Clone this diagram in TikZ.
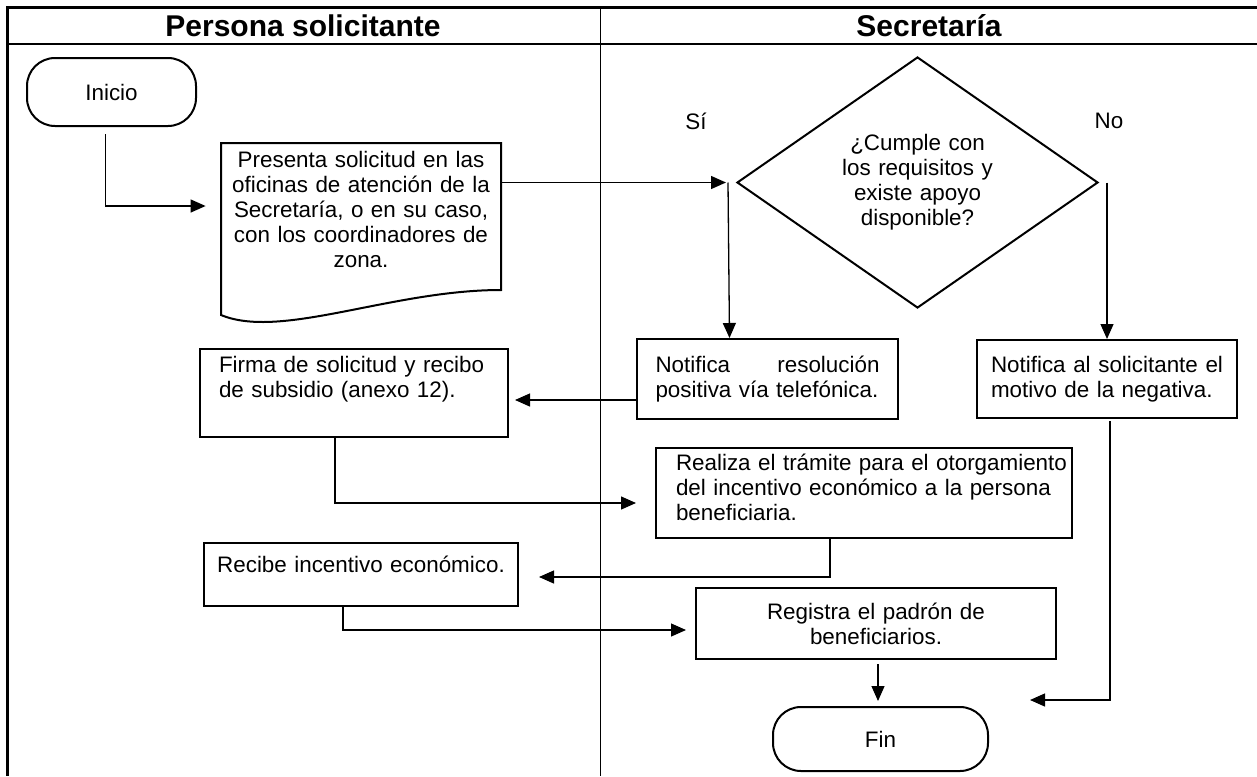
\documentclass[tikz,border=0pt]{standalone}
\usepackage{fontspec}
\setmainfont{Liberation Sans}
\usepackage{tikz}
\usetikzlibrary{calc, arrows.meta, positioning, shapes.geometric}
\usepackage{xcolor}

\begin{document}
\begin{tikzpicture}[x=0.5pt, y=-0.5pt, >={Triangle[length=7.5pt, width=6.5pt]}, font=\fontsize{11.2}{12.5}\selectfont, execute at begin node={\setlength{\baselineskip}{12.5pt}}]
			\tikzstyle{box} = [draw=black, line width=1pt, rectangle, inner sep=0pt, align=left]
			\tikzstyle{term} = [draw=black, line width=1pt, rectangle, rounded corners=14pt, minimum width=84.5pt, minimum height=34pt]
			\tikzstyle{decision} = [draw=black, line width=1pt, diamond, aspect=1.44, inner sep=0pt, align=center, text width=78pt, minimum width=180.5pt, minimum height=125.5pt]
			\tikzstyle{head} = [font=\fontsize{15}{18}\selectfont\bfseries]
			\tikzstyle{arrow} = [line width=0.65pt, ->]

			\useasboundingbox (0, 0) rectangle (1257, 776);

			% carriles
			\draw[line width=1.5pt] (1257, 7) -- (7, 7) -- (7, 776);
			\draw[line width=1pt] (7, 44) -- (1257, 44);
			\draw[line width=0.5pt] (600, 7) -- (600, 776);

			\node[head] 	at (303, 26)		(hsol)	{Persona solicitante};
			\node[head] 	at (929, 26)		(hsec)	{Secretaría};

			\node[term] 	at (111.5, 92)		(inicio)	{Inicio};
			\node[align=center, text width=136pt, inner sep=2pt] at (361, 209) (pres) {Presenta solicitud en las\\oficinas de atención de la\\Secretaría, o en su caso,\\con los coordinadores de\\zona.};
			\draw[line width=1pt] ($(pres.center)+(-140,106)$) -- ($(pres.center)+(-140,-66)$) -- ($(pres.center)+(140,-66)$) -- ($(pres.center)+(140,81)$) .. controls ($(pres.center)+(30,81)$) and ($(pres.center)+(-80,131)$) .. ($(pres.center)+(-140,106)$) -- cycle;

			\node[decision]	at (917.5, 182.5)	(cumple)	{¿Cumple con\\los requisitos y\\existe apoyo\\disponible?};
			\node 			at (696, 121)		(lsi)	{Sí};
			\node 			at (1109, 121)		(lno)	{No};

			\node[box, text width=112pt, minimum width=130.5pt, minimum height=40pt]	at (767.5, 379)	(notsi)	{Notifica\hfill resolución\\positiva vía telefónica.};
			\node[box, text width=116pt, minimum width=130pt, minimum height=39pt]	at (1107, 379)	(notno)	{Notifica\hfill al\hfill solicitante\hfill el\\motivo de la negativa.};
			\node[box, text width=135pt, minimum width=154pt, minimum height=44pt]	at (354, 393)	(firma)	{Firma de solicitud y recibo\\de subsidio (anexo 12).\\[4pt]\mbox{}};
			\node[box, text width=188pt, minimum width=208pt, minimum height=45pt]	at (864, 493)	(tramite)	{\mbox{Realiza el trámite para el otorgamiento}\\del incentivo económico a la persona\\beneficiaria.\\[-7pt]\mbox{}};
			\node[box, align=center, text width=150pt, minimum width=157pt, minimum height=31.5pt]	at (361, 574.5)	(recibe)	{Recibe incentivo económico.\\[-2pt]\mbox{}};
			\node[box, align=center, text width=160pt, minimum width=180pt, minimum height=35.5pt]	at (876, 623.5)	(registra)	{Registra el padrón de\\beneficiarios.};
			\node[term, minimum width=107.5pt, minimum height=32pt]	at (880.5, 739)	(fin)	{Fin};

			\draw [arrow, shorten <=3.5pt, shorten >=7.5pt]	($(inicio.south)+(-6,0)$) |- ($(pres.west)+(0,-3)$);
			\draw [arrow, shorten >=5pt]	(pres.east |- cumple.west) -- (cumple.west);
			\draw [arrow]	($(cumple.west)+(-8,0)$) -- ($(notsi.north)+(-38,0)$);
			\draw [arrow]	(notno.north |- cumple.east) -- (notno.north);
			\draw [arrow, shorten >=3pt]	($(notsi.west)+(0,21)$) -- ($(firma.east)+(0,7)$);
			\draw [arrow, shorten >=9.5pt]	($(firma.south)+(-19,0)$) |- ($(tramite.west)+(0,10)$);
			\draw [arrow, shorten >=10pt]	($(tramite.south)+(-34,0)$) |- ($(recibe.east)+(0,2.5)$);
			\draw [arrow, shorten >=4.5pt]	($(recibe.south)+(-18,0)$) |- ($(registra.west)+(0,6.5)$);
			\draw [arrow, shorten <=2pt, shorten >=2.5pt]	($(registra.south)+(2,0)$) -- ($(fin.north)+(-2.5,0)$);
			\draw [arrow, shorten <=1pt]	($(notno.south)+(3,0)$) |- ($(fin.north east)+(41,-6)$);
		\end{tikzpicture}
\end{document}
